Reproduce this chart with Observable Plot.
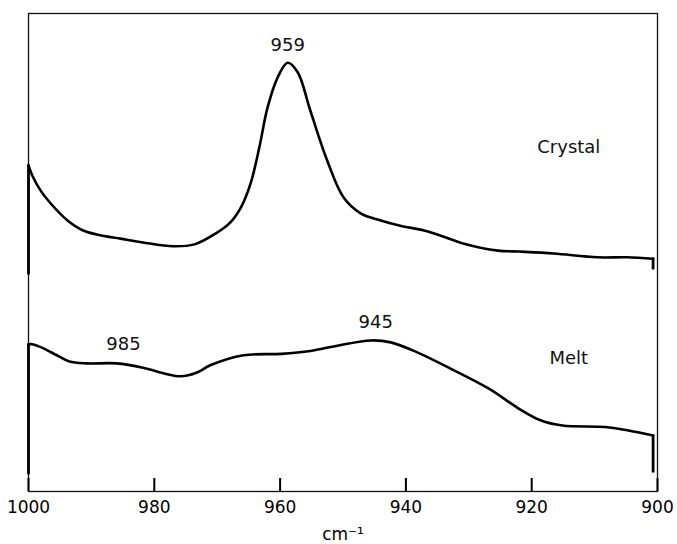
<!DOCTYPE html>
<html>
<head>
<meta charset="utf-8">
<script src="https://cdn.jsdelivr.net/npm/d3@7"></script>
<script src="https://cdn.jsdelivr.net/npm/@observablehq/plot@0.6"></script>
<style>
  html, body { margin: 0; padding: 0; background: #fff; }
  #chart svg { display: block; }
</style>
</head>
<body>
<div id="chart"></div>
<script>
// Wavenumbers (cm^-1) and absorbance (arbitrary units, 0–100).
// First and last pairs are the pen's vertical start/end strokes.
const crystalX = [1000, 1000, 999.4, 998.1, 996.5, 993.8, 991.3, 988.6, 985.4, 981.8, 977.0, 973.6, 970.2, 967.9, 966.2, 964.7, 963.3, 962.0, 960.4, 958.8, 957.2, 955.2, 952.5, 949.9, 947.2, 944.0, 940.9, 937.1, 934.0, 930.9, 925.4, 922.0, 916.5, 909.6, 904.8, 900.7, 900.7];
const crystalY = [45.6, 68.2, 66.1, 63.0, 60.3, 56.7, 54.6, 53.6, 52.9, 52.1, 51.3, 51.7, 54.0, 56.3, 59.5, 64.4, 72.0, 80.3, 86.6, 89.7, 87.7, 79.7, 69.2, 61.5, 58.2, 56.7, 55.6, 54.6, 53.3, 51.9, 50.4, 50.2, 49.8, 49.0, 49.0, 48.7, 46.7];

const meltX = [1000, 1000, 999.4, 997.7, 995.5, 993.5, 990.8, 986.0, 981.8, 978.4, 975.8, 973.2, 971.1, 965.8, 959.8, 955.2, 950.9, 945.6, 942.4, 938.2, 932.9, 926.8, 922.0, 918.6, 915.1, 908.3, 904.8, 900.7, 900.7];
const meltY = [3.8, 30.8, 30.8, 30.0, 28.5, 27.2, 26.8, 26.8, 25.9, 24.7, 24.1, 24.9, 26.4, 28.5, 28.8, 29.4, 30.5, 31.6, 31.2, 29.1, 25.7, 21.5, 17.3, 14.9, 13.8, 13.5, 12.8, 11.7, 4.2];

const xTicks = [1000, 980, 960, 940, 920, 900];
const xLabel = "cm⁻¹";

const annotText = ["959", "985", "945", "Crystal", "Melt"];
const annotX = [958.8, 984.9, 944.8, 914.1, 914.1];
const annotY = [93.3, 30.8, 35.4, 72.0, 27.8];

const toRows = (xs, ys) => xs.map((x, i) => ({x, y: ys[i]}));
const crystal = toRows(crystalX, crystalY);
const melt = toRows(meltX, meltY);
const annots = annotText.map((t, i) => ({t, x: annotX[i], y: annotY[i]}));

// smooth body plus straight pen strokes at both ends
const body = rows => rows.slice(1, -1);
const ends = rows => [
  ...rows.slice(0, 2).map(r => ({...r, seg: "start"})),
  ...rows.slice(-2).map(r => ({...r, seg: "end"}))
];

const W = 677, H = 544;
const mTop = 13, mBottom = 53;
const tickLen = 13;
const font = "'DejaVu Sans', sans-serif";

const chart = Plot.plot({
  width: W,
  height: H,
  marginTop: mTop,
  marginBottom: mBottom,
  marginLeft: 28,
  marginRight: 20,
  style: {fontFamily: font, fontSize: "17px", background: "#fff"},
  x: {
    domain: [1000, 900],
    ticks: xTicks,
    tickFormat: d => String(d),
    tickSize: 0,
    tickPadding: 9,
    label: xLabel,
    labelAnchor: "center",
    labelArrow: "none",
    labelOffset: 48
  },
  y: {domain: [0, 100], axis: null},
  marks: [
    Plot.frame({stroke: "#111", strokeWidth: 1.3}),
    Plot.tickX(xTicks, {x: d => d, insetTop: (H - mTop - mBottom) - tickLen, stroke: "#000", strokeWidth: 2}),
    Plot.line(body(crystal), {x: "x", y: "y", curve: "catmull-rom", stroke: "#000", strokeWidth: 2.6}),
    Plot.line(body(melt), {x: "x", y: "y", curve: "catmull-rom", stroke: "#000", strokeWidth: 2.6}),
    Plot.line(ends(crystal), {x: "x", y: "y", z: "seg", stroke: "#000", strokeWidth: 2.8}),
    Plot.line(ends(melt), {x: "x", y: "y", z: "seg", stroke: "#000", strokeWidth: 2.8}),
    Plot.text(annots, {x: "x", y: "y", text: "t", fontSize: 18, fill: "#111"})
  ]
});
document.getElementById("chart").appendChild(chart);
</script>
</body>
</html>
